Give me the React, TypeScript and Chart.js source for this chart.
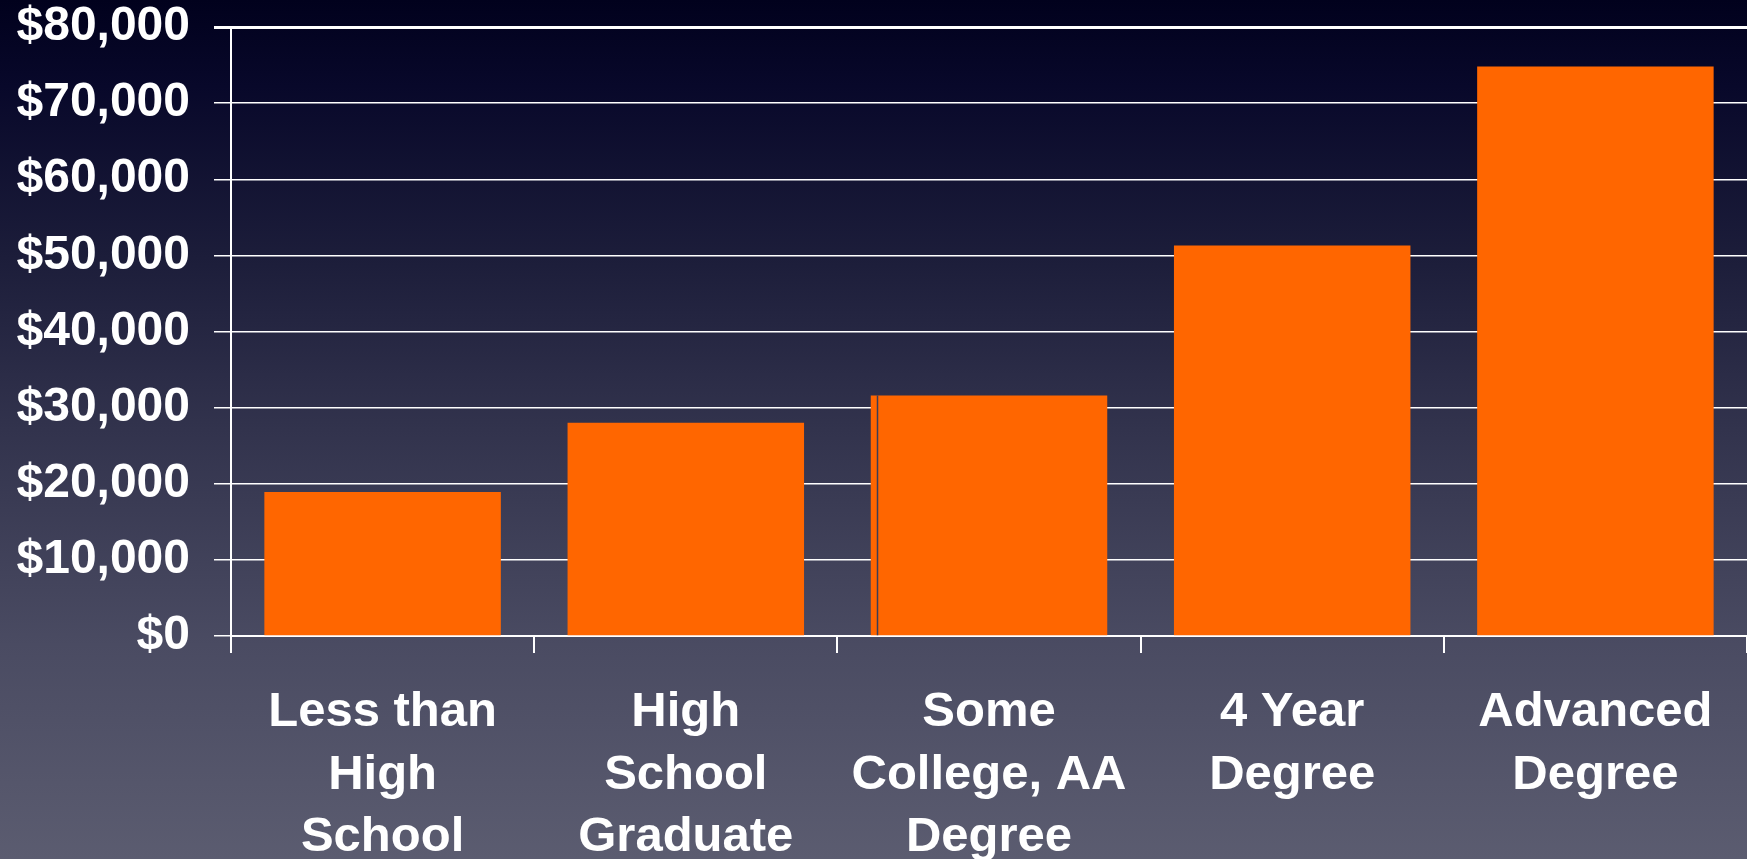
import React, { useEffect, useRef } from "react";
import { Chart, registerables } from "chart.js";

Chart.register(...registerables);

const categories: string[][] = [
  ["Less than", "High", "School"],
  ["High", "School", "Graduate"],
  ["Some", "College, AA", "Degree"],
  ["4 Year", "Degree"],
  ["Advanced", "Degree"],
];
const earnings: number[] = [18900, 28000, 31600, 51300, 74800];
const yMin = 0;
const yMax = 80000;
const yStep = 10000;

const W = 1747;
const H = 859;
const FONT = "'Liberation Sans', Arial, Helvetica, sans-serif";

const backgroundPlugin = {
  id: "bgGradient",
  beforeDraw(chart: any) {
    const { ctx, width, height } = chart;
    const g = ctx.createLinearGradient(0, 0, 0, height);
    g.addColorStop(0, "#01011d");
    g.addColorStop(0.1, "#08082a");
    g.addColorStop(0.3, "#1c1d3a");
    g.addColorStop(0.5, "#32334d");
    g.addColorStop(0.75, "#4a4b62");
    g.addColorStop(1, "#5b5c70");
    ctx.save();
    ctx.fillStyle = g;
    ctx.fillRect(0, 0, width, height);
    ctx.restore();
  },
};

const seamPlugin = {
  id: "barSeam",
  afterDatasetsDraw(chart: any) {
    const meta = chart.getDatasetMeta(0);
    const bar = meta.data[2];
    if (!bar) return;
    const { x, y, base, width } = bar.getProps(["x", "y", "base", "width"], true);
    const ctx = chart.ctx;
    ctx.save();
    ctx.strokeStyle = "#3c3d56";
    ctx.lineWidth = 1.5;
    const sx = Math.round(x - width / 2) + 6.5;
    ctx.beginPath();
    ctx.moveTo(sx, y);
    ctx.lineTo(sx, base);
    ctx.stroke();
    ctx.restore();
  },
};

export default function App() {
  const ref = useRef<HTMLCanvasElement | null>(null);

  useEffect(() => {
    document.body.style.margin = "0";
    document.body.style.overflow = "hidden";
    const canvas = ref.current;
    if (!canvas) return;
    const chart = new Chart(canvas, {
      type: "bar",
      data: {
        labels: categories,
        datasets: [
          {
            data: earnings,
            backgroundColor: "#ff6600",
            borderWidth: 0,
            barPercentage: 0.78,
            categoryPercentage: 1,
          },
        ],
      },
      options: {
        responsive: false,
        devicePixelRatio: 1,
        animation: false,
        layout: { padding: { top: 27, right: 0, left: 0, bottom: 0 } },
        plugins: {
          legend: { display: false },
          tooltip: { enabled: false },
        },
        scales: {
          x: {
            offset: true,
            afterFit(scale: any) {
              scale.height = 223;
              scale.paddingLeft = 0;
              scale.paddingRight = 0;
            },
            grid: {
              offset: true,
              drawOnChartArea: false,
              drawTicks: true,
              tickLength: 17,
              color: "#ffffff",
              lineWidth: 2,
            },
            border: { display: true, color: "#ffffff", width: 2 },
            ticks: {
              color: "#ffffff",
              padding: 28,
              maxRotation: 0,
              autoSkip: false,
              font: { family: FONT, size: 49, weight: "bold", lineHeight: 1.28 },
            },
          },
          y: {
            min: yMin,
            max: yMax,
            afterFit(scale: any) {
              scale.width = 231;
              scale.paddingTop = 0;
              scale.paddingBottom = 0;
            },
            grid: {
              color: "#ffffff",
              lineWidth: (c: any) => (c.tick && c.tick.value === yMax ? 3 : 1.5),
              tickLength: 17,
              drawTicks: true,
            },
            border: { display: true, color: "#ffffff", width: 2 },
            ticks: {
              stepSize: yStep,
              color: "#ffffff",
              padding: 24,
              font: { family: FONT, size: 48, weight: "bold" },
              callback: (v: any) => "$" + Number(v).toLocaleString("en-US"),
            },
          },
        },
      },
      plugins: [backgroundPlugin, seamPlugin],
    });
    return () => chart.destroy();
  }, []);

  return (
    <div style={{ position: "fixed", left: 0, top: 0, width: W, height: H, overflow: "hidden" }}>
      <canvas ref={ref} width={W} height={H} style={{ display: "block", width: W, height: H }} />
    </div>
  );
}
